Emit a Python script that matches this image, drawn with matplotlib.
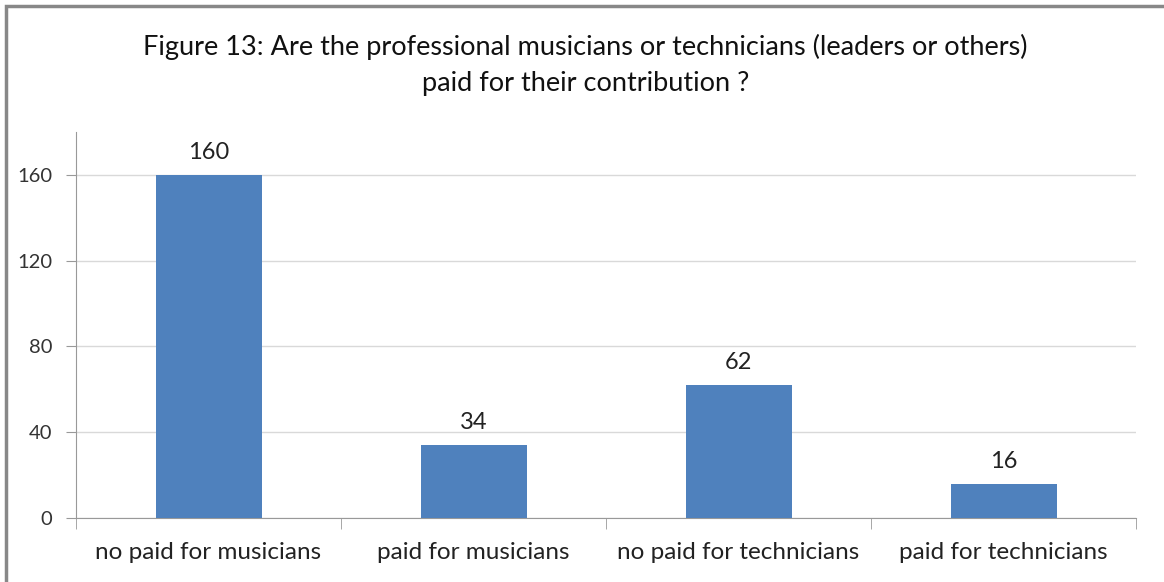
import matplotlib.pyplot as plt
from matplotlib.patches import Rectangle

categories = ['no paid for musicians', 'paid for musicians',
              'no paid for technicians', 'paid for technicians']
counts = [160, 34, 62, 16]
yticks = [0, 40, 80, 120, 160]

plt.rcParams['font.family'] = ['Lato', 'DejaVu Sans']

fig = plt.figure(figsize=(11.64, 5.82), dpi=100)
ax = fig.add_axes([0.0653, 0.110, 0.9107, 0.663])

x = list(range(len(categories)))
bars = ax.bar(x, counts, width=0.4, color='#4F81BD', zorder=3)
for b, v in zip(bars, counts):
    ax.text(b.get_x() + b.get_width() / 2, v + 5.5, str(v), ha='center',
            va='bottom', fontsize=17, color='#222222')

ax.set_xlim(-0.5, len(categories) - 0.5)
ax.set_ylim(0, 180)
ax.set_yticks(yticks)
ax.set_yticklabels([str(t) for t in yticks], fontsize=14.5, color='#333333')
ax.set_xticks(x)
ax.set_xticklabels(categories, fontsize=17.5, color='#222222')
ax.tick_params(axis='x', length=0, pad=17)
ax.tick_params(axis='y', length=7, color='#999999', pad=10)
# category boundary ticks
ax.set_xticks([i - 0.5 for i in range(len(categories) + 1)], minor=True)
ax.tick_params(axis='x', which='minor', length=8, color='#999999', direction='out')

ax.grid(axis='y', color='#d9d9d9', linewidth=1, zorder=0)
for s in ['top', 'right']:
    ax.spines[s].set_visible(False)
ax.spines['left'].set_color('#999999')
ax.spines['bottom'].set_color('#999999')

fig.text(0.503, 0.919, 'Figure 13: Are the professional musicians or technicians (leaders or others)',
         ha='center', va='center', fontsize=19.5, color='#111111')
fig.text(0.503, 0.857, 'paid for their contribution ?',
         ha='center', va='center', fontsize=19.5, color='#111111')

fig.patches.append(Rectangle((0.005, -0.05), 1.1, 1.039, transform=fig.transFigure,
                             fill=False, edgecolor='#888888', linewidth=2.5))

fig.savefig('out.png', dpi=100)
